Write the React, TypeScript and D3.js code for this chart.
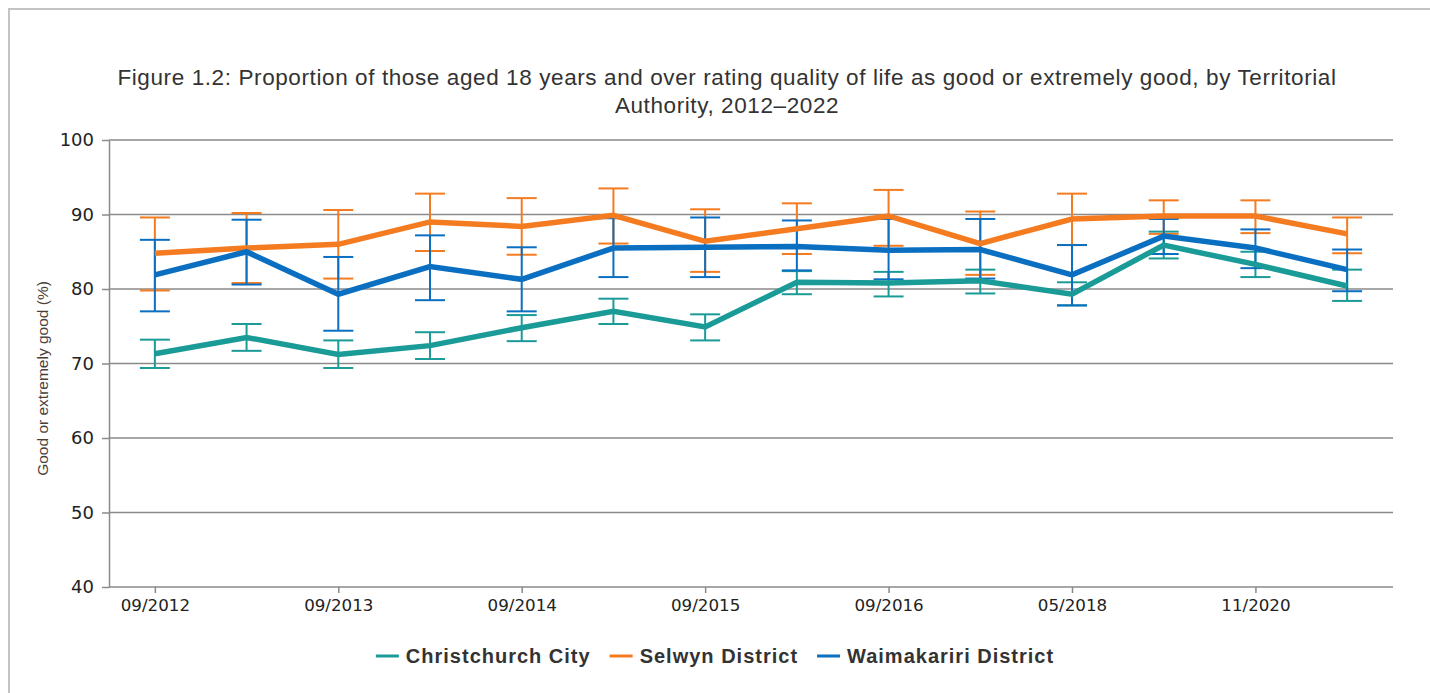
import React, { useRef, useEffect } from 'react';
import * as d3 from 'd3';

// survey rounds, in order (only every second one gets a label on the axis)
const surveyRounds = [
    '09/2012', '03/2013', '09/2013', '04/2014', '09/2014', '04/2015', '09/2015',
    '04/2016', '09/2016', '04/2017', '05/2018', '2019', '11/2020', '2022',
];
const xTickLabels = ['09/2012', '09/2013', '09/2014', '09/2015', '09/2016', '05/2018', '11/2020'];
const yTicks = [40, 50, 60, 70, 80, 90, 100];

const seriesNames = ['Christchurch City', 'Selwyn District', 'Waimakariri District'];
const seriesColors = ['#1a9b97', '#f47b20', '#0b6fc1'];

const christchurchValues = [71.3, 73.5, 71.2, 72.4, 74.8, 77.0, 74.9, 80.9, 80.8, 81.1, 79.3, 85.9, 83.3, 80.4];
const christchurchLower = [69.4, 71.7, 69.4, 70.6, 73.0, 75.3, 73.1, 79.3, 79.0, 79.4, 77.8, 84.1, 81.6, 78.4];
const christchurchUpper = [73.2, 75.3, 73.1, 74.2, 76.5, 78.7, 76.6, 82.4, 82.3, 82.6, 80.9, 87.7, 85.0, 82.6];

const selwynValues = [84.8, 85.5, 86.0, 89.0, 88.4, 89.9, 86.4, 88.1, 89.8, 86.1, 89.4, 89.8, 89.8, 87.4];
const selwynLower = [79.8, 80.8, 81.4, 85.1, 84.6, 86.1, 82.3, 84.7, 85.8, 81.9, 85.9, 87.4, 87.5, 84.8];
const selwynUpper = [89.6, 90.2, 90.6, 92.8, 92.2, 93.5, 90.7, 91.5, 93.3, 90.4, 92.8, 91.9, 91.9, 89.6];

const waimakaririValues = [81.9, 85.0, 79.3, 83.0, 81.3, 85.5, 85.6, 85.7, 85.2, 85.3, 81.9, 87.1, 85.5, 82.6];
const waimakaririLower = [77.0, 80.6, 74.4, 78.5, 77.0, 81.6, 81.6, 82.5, 81.3, 81.4, 77.8, 84.7, 82.8, 79.7];
const waimakaririUpper = [86.6, 89.3, 84.3, 87.2, 85.6, 89.5, 89.6, 89.2, 89.4, 89.4, 85.9, 89.4, 88.0, 85.3];

interface Point {
    round: string;
    value: number;
    lower: number;
    upper: number;
}

const buildSeries = (values: number[], lower: number[], upper: number[]): Point[] =>
    surveyRounds.map((round, i) => ({ round, value: values[i], lower: lower[i], upper: upper[i] }));

const allSeries = [
    buildSeries(christchurchValues, christchurchLower, christchurchUpper),
    buildSeries(selwynValues, selwynLower, selwynUpper),
    buildSeries(waimakaririValues, waimakaririLower, waimakaririUpper),
];

const width = 1430;
const height = 693;
const titleLines = [
    'Figure 1.2: Proportion of those aged 18 years and over rating quality of life as good or extremely good, by Territorial',
    'Authority, 2012–2022',
];

const QualityChart: React.FC = () => {
    const svgRef = useRef<SVGSVGElement | null>(null);

    useEffect(() => {
        if (!svgRef.current) return;
        const svg = d3.select(svgRef.current);
        svg.selectAll('*').remove();

        const plot = { left: 109, right: 1393, top: 140, bottom: 587 };

        const x = d3.scalePoint<string>()
            .domain(surveyRounds)
            .range([plot.left, plot.right])
            .padding(0.5);
        const y = d3.scaleLinear().domain([40, 100]).range([plot.bottom, plot.top]);

        // panel border (top + left only, the rest runs off the crop)
        svg.append('path')
            .attr('d', `M9,${height} V9 H${width}`)
            .attr('fill', 'none')
            .attr('stroke', '#c4c4c4')
            .attr('stroke-width', 2);

        // title
        svg.append('text')
            .attr('x', 727)
            .attr('y', 85)
            .attr('text-anchor', 'middle')
            .style('font-family', 'Liberation Sans, Arial, sans-serif')
            .style('font-size', '22.5px')
            .style('letter-spacing', '0.6px')
            .attr('fill', '#333')
            .selectAll('tspan')
            .data(titleLines)
            .enter().append('tspan')
            .attr('x', 727)
            .attr('dy', (d, i) => (i === 0 ? 0 : 28))
            .text(d => d);

        // gridlines
        svg.append('g')
            .selectAll('line')
            .data(yTicks.filter(t => t > 40))
            .enter().append('line')
            .attr('x1', plot.left)
            .attr('x2', plot.right)
            .attr('y1', d => y(d))
            .attr('y2', d => y(d))
            .attr('stroke', '#8a8a8a')
            .attr('stroke-width', 1.5);

        // y axis
        const yAxis = svg.append('g')
            .attr('transform', `translate(${plot.left},0)`)
            .call(d3.axisLeft(y).tickValues(yTicks).tickSize(7).tickPadding(8).tickSizeOuter(0));
        yAxis.select('.domain').attr('stroke', '#8a8a8a').attr('stroke-width', 1.5);
        yAxis.selectAll('.tick line').attr('stroke', '#8a8a8a').attr('stroke-width', 1.5);
        yAxis.selectAll('.tick text')
            .style('font-family', 'DejaVu Sans, Verdana, sans-serif')
            .style('font-size', '18px')
            .attr('fill', '#222');

        // x axis
        const xAxis = svg.append('g')
            .attr('transform', `translate(0,${plot.bottom})`)
            .call(d3.axisBottom(x).tickValues(xTickLabels).tickSize(6).tickPadding(6).tickSizeOuter(0));
        xAxis.select('.domain').attr('stroke', '#8a8a8a').attr('stroke-width', 1.5)
            .attr('d', `M${plot.left},0H${plot.right}`);
        xAxis.selectAll('.tick line').attr('stroke', '#8a8a8a').attr('stroke-width', 1.5);
        xAxis.selectAll('.tick text')
            .style('font-family', 'DejaVu Sans, Verdana, sans-serif')
            .style('font-size', '16.7px')
            .attr('fill', '#222');

        // y axis title
        svg.append('text')
            .attr('transform', `translate(48,${(plot.top + plot.bottom) / 2 + 15}) rotate(-90)`)
            .attr('text-anchor', 'middle')
            .style('font-family', 'Liberation Sans, Arial, sans-serif')
            .style('font-size', '15.5px')
            .attr('fill', '#4a4038')
            .text('Good or extremely good (%)');

        // error bars first, then the lines on top
        const capHalf = 15;
        allSeries.forEach((series, s) => {
            const bars = svg.append('g')
                .attr('stroke', seriesColors[s])
                .attr('stroke-width', 2)
                .selectAll('g')
                .data(series)
                .enter().append('g');
            bars.append('line')
                .attr('x1', d => x(d.round)!)
                .attr('x2', d => x(d.round)!)
                .attr('y1', d => y(d.lower))
                .attr('y2', d => y(d.upper));
            bars.append('line')
                .attr('x1', d => x(d.round)! - capHalf)
                .attr('x2', d => x(d.round)! + capHalf)
                .attr('y1', d => y(d.upper))
                .attr('y2', d => y(d.upper));
            bars.append('line')
                .attr('x1', d => x(d.round)! - capHalf)
                .attr('x2', d => x(d.round)! + capHalf)
                .attr('y1', d => y(d.lower))
                .attr('y2', d => y(d.lower));
        });

        const line = d3.line<Point>()
            .x(d => x(d.round)!)
            .y(d => y(d.value));

        allSeries.forEach((series, s) => {
            svg.append('path')
                .datum(series)
                .attr('d', line)
                .attr('fill', 'none')
                .attr('stroke', seriesColors[s])
                .attr('stroke-width', 5.5)
                .attr('stroke-linejoin', 'miter');
        });

        // legend, centred under the chart
        const legend = svg.append('g');
        const swatch = 23;
        const swatchGap = 7;
        const itemGap = 19;
        let cursor = 0;
        seriesNames.forEach((name, i) => {
            const g = legend.append('g');
            g.append('line')
                .attr('x1', 0).attr('x2', swatch)
                .attr('y1', 0).attr('y2', 0)
                .attr('stroke', seriesColors[i])
                .attr('stroke-width', 3);
            const t = g.append('text')
                .attr('x', swatch + swatchGap)
                .attr('dy', '0.35em')
                .style('font-family', 'Liberation Sans, Arial, sans-serif')
                .style('font-size', '20px')
                .style('font-weight', 'bold')
                .style('letter-spacing', '1px')
                .attr('fill', '#333')
                .text(name);
            const w = swatch + swatchGap + (t.node() as SVGTextElement).getComputedTextLength();
            g.attr('transform', `translate(${cursor},0)`);
            cursor += w + itemGap;
        });
        const total = cursor - itemGap;
        legend.attr('transform', `translate(${715 - total / 2},656)`);
    }, []);

    return <svg ref={svgRef} width={width} height={height} style={{ display: 'block', background: '#fff' }}></svg>;
};

export default function App() {
    return (
        <div style={{ position: 'absolute', left: 0, top: 0 }}>
            <QualityChart />
        </div>
    );
}
